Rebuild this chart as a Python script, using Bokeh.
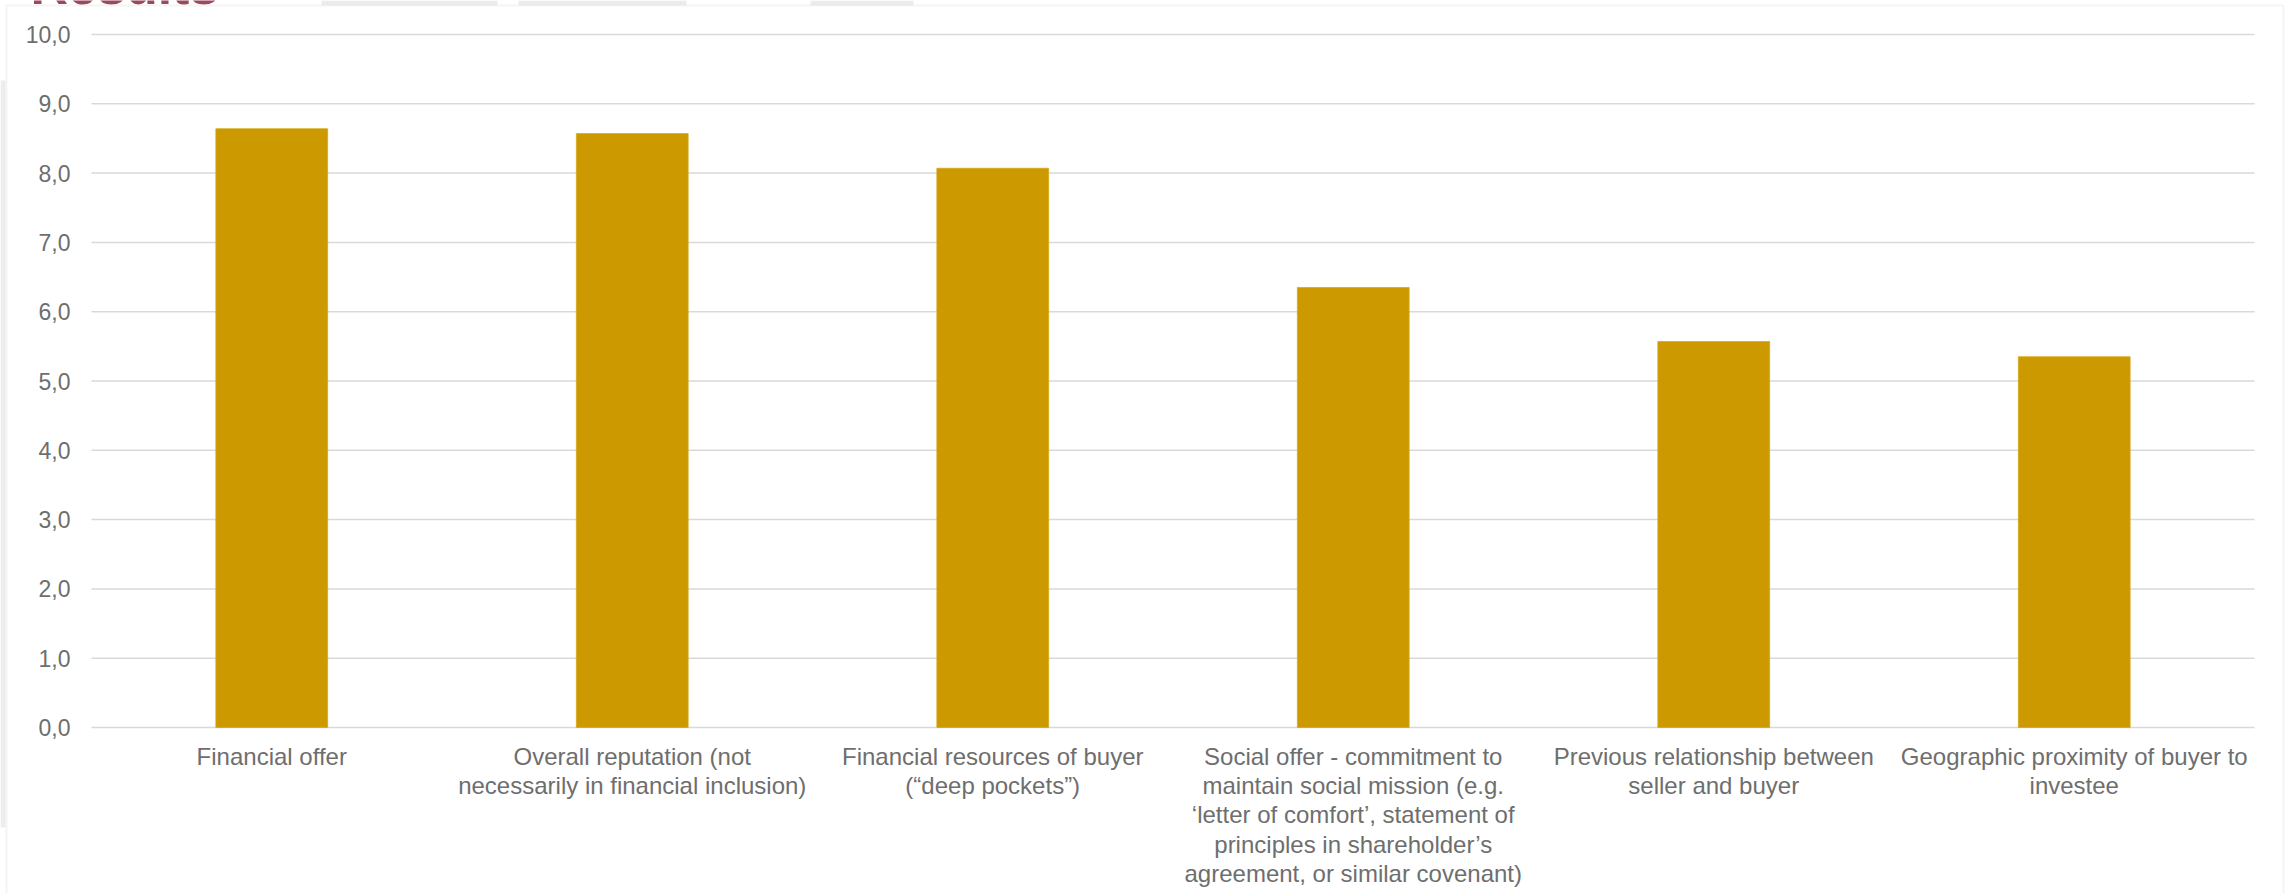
from bokeh.plotting import figure
from bokeh.models import Label, BoxAnnotation, Range1d
from bokeh.core.properties import value
from bokeh.embed import file_html
from bokeh.resources import INLINE

# ---- data ----
categories = [
    "Financial offer",
    "Overall reputation (not\nnecessarily in financial inclusion)",
    "Financial resources of buyer\n(“deep pockets”)",
    "Social offer - commitment to\nmaintain social mission (e.g.\n‘letter of comfort’, statement of\nprinciples in shareholder’s\nagreement, or similar covenant)",
    "Previous relationship between\nseller and buyer",
    "Geographic proximity of buyer to\ninvestee",
]
scores = [8.64, 8.57, 8.07, 6.35, 5.57, 5.35]
y_ticks = [0, 1, 2, 3, 4, 5, 6, 7, 8, 9, 10]
y_tick_labels = ["0,0", "1,0", "2,0", "3,0", "4,0", "5,0", "6,0", "7,0", "8,0", "9,0", "10,0"]
title_text = "Results"

# ---- layout (pixels) ----
W, H = 2290, 893
PLOT_L, PLOT_R, PLOT_T, PLOT_B = 91, 2254, 34, 727   # plot area inside the canvas
n = len(categories)
y_min, y_max = y_ticks[0], y_ticks[-1]
px_x = (PLOT_R - PLOT_L) / n
px_y = (PLOT_B - PLOT_T) / (y_max - y_min)

FONT = "Liberation Sans"
TXT = "#6e6e6e"
GRID = "#d9d9d9"
BAR = "#cc9900"

p = figure(
    width=W, height=H,
    x_range=Range1d(-PLOT_L / px_x, n + (W - PLOT_R) / px_x),
    y_range=Range1d(y_min - (H - PLOT_B) / px_y, y_max + PLOT_T / px_y),
    x_axis_location=None, y_axis_location=None,
    output_backend="svg", toolbar_location=None, min_border=0,
)
p.outline_line_color = None
p.background_fill_color = "white"
p.border_fill_color = "white"
p.xgrid.visible = False
p.ygrid.visible = False

# slide background bits peeking out above / left of the chart box
for x0, x1 in [(321, 497), (518, 686), (810, 913)]:
    p.add_layout(BoxAnnotation(
        left=x0, right=x1, top=H, bottom=H - 5,
        left_units="screen", right_units="screen", top_units="screen", bottom_units="screen",
        fill_color="#ececec", fill_alpha=1, line_color=None, level="underlay"))
p.add_layout(BoxAnnotation(
    left=0, right=5, top=H - 80, bottom=H - 827,
    left_units="screen", right_units="screen", top_units="screen", bottom_units="screen",
    fill_color="#ededed", fill_alpha=1, line_color=None, level="underlay"))

# slide title, mostly hidden behind the chart box
p.add_layout(Label(
    x=30, y=H + 15, x_units="screen", y_units="screen",
    text=title_text, text_font=FONT, text_font_style="bold", text_font_size="52px",
    text_color="#9b4a5c", text_baseline="alphabetic", text_align="left", level="underlay"))

# chart box (white, covers the slide title below its top edge)
p.add_layout(BoxAnnotation(
    left=6, right=2283, top=H - 5, bottom=-60,
    left_units="screen", right_units="screen", top_units="screen", bottom_units="screen",
    fill_color="white", fill_alpha=1, line_color=GRID, line_width=2, level="underlay"))

x_centers = [i + 0.5 for i in range(n)]

# horizontal gridlines (value axis)
p.segment(x0=[0] * len(y_ticks), x1=[n] * len(y_ticks), y0=y_ticks, y1=y_ticks,
          line_color=GRID, line_width=1.5)

# bars
p.vbar(x=x_centers, top=scores, bottom=0, width=0.31,
       fill_color=BAR, line_color="#d6a817", line_width=0.8)

# value-axis tick labels
p.text(x=[0] * len(y_ticks), y=y_ticks, text=y_tick_labels,
       x_offset=-21, text_align="right", text_baseline="middle",
       text_font=value(FONT), text_font_size="23px", text_color=TXT)

# category-axis labels
p.text(x=x_centers, y=[0] * n, text=categories,
       y_offset=15, text_align="center", text_baseline="top",
       text_line_height=1.09,
       text_font=value(FONT), text_font_size="24px", text_color=TXT)

open("out.html", "w").write(file_html(p, INLINE))
